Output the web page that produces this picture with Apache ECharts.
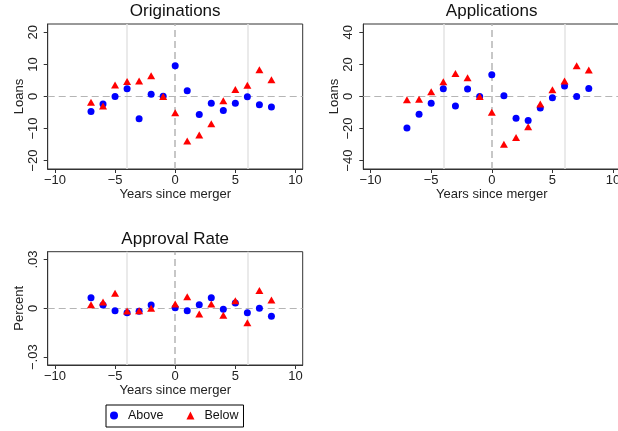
<!DOCTYPE html>
<html><head><meta charset="utf-8">
<script src="https://cdn.jsdelivr.net/npm/echarts@6/dist/echarts.min.js"></script>
<style>html,body{margin:0;padding:0;background:#fff}#c{width:618px;height:431px}</style>
</head><body><div id="c"></div>
<script>
// Data
const years = [-7,-6,-5,-4,-3,-2,-1,0,1,2,3,4,5,6,7,8];
const origAbove = [-4.7,-2.3,0.0,2.4,-6.9,0.7,0.1,9.6,1.8,-5.6,-2.1,-4.4,-2.1,-0.1,-2.6,-3.3];
const origBelow = [-1.8,-3.0,3.6,4.7,4.8,6.5,0.0,-5.1,-13.9,-12.0,-8.5,-1.3,2.2,3.5,8.3,5.2];
const appAbove = [-19.6,-11.0,-4.2,4.8,-6.0,4.6,0.0,13.5,0.4,-13.5,-15.0,-7.1,-0.8,6.5,0.0,5.0];
const appBelow = [-2.1,-1.7,2.9,9.2,14.4,11.7,0.0,-9.8,-29.8,-25.6,-18.8,-4.6,4.2,9.6,19.2,16.5];
const apprAbove = [0.0065,0.0020,-0.0014,-0.0027,-0.0018,0.0020,null,0.0004,-0.0014,0.0022,0.0065,-0.0006,0.0033,-0.0027,0.0000,-0.0049];
const apprBelow = [0.0022,0.0039,0.0092,-0.0016,-0.0014,0.0000,null,0.0027,0.0072,-0.0035,0.0027,-0.0043,0.0047,-0.0088,0.0110,0.0051];
const xTicks = [-10,-5,0,5,10];
const origTicks = [-20,-10,0,10,20];
const appTicks = [-40,-20,0,20,40];
const apprTicks = [-0.03,0,0.03];
const titles = ['Originations','Applications','Approval Rate'];
const yNames = ['Loans','Loans','Percent'];
const xName = 'Years since merger';
const seriesNames = ['Above','Below'];

const FONT = '"Liberation Sans", Arial, Helvetica, sans-serif';
const pairs = (vals) => years.map((y,i)=> vals[i]===null ? null : [y, vals[i]]).filter(d=>d);
const minus = (s) => String(s).replace('-', '\u2212');
const fmtInt = v => minus(v);
const fmtDec = v => v===0 ? '0' : (v<0?'\u2212':'') + String(Math.abs(v)).replace(/^0/, '');

const grids = [
  {left: 47.7, top: 24, width: 255, height: 145},
  {left: 363.3, top: 24, width: 257, height: 145},
  {left: 47.7, top: 251.7, width: 255, height: 113.3}
];
const yRanges = [[-22.6,22.6],[-45.2,45.2],[-0.0348,0.0348]];
const yTickSets = [origTicks, appTicks, apprTicks];
const yFmts = [fmtInt, fmtInt, fmtDec];

const axisColor = '#333';
const xAxes = grids.map((g,i)=>({
  type:'value', gridIndex:i, min:-10.6, max:10.6,
  name: xName, nameLocation:'middle', nameGap:19,
  nameTextStyle:{fontFamily:FONT, fontSize:13, color:'#222'},
  axisLine:{show:true, onZero:false, lineStyle:{color:axisColor, width:1}},
  axisTick:{show:true, length:4, customValues:xTicks, lineStyle:{color:axisColor}},
  axisLabel:{customValues:xTicks, formatter:fmtInt, margin:5, fontFamily:FONT, fontSize:13, color:'#222', hideOverlap:false},
  splitLine:{show:false}
}));
const yAxes = grids.map((g,i)=>({
  type:'value', gridIndex:i, min:yRanges[i][0], max:yRanges[i][1],
  name: yNames[i], nameLocation:'middle', nameGap:22,
  nameTextStyle:{fontFamily:FONT, fontSize:13, color:'#222'},
  axisLine:{show:true, onZero:false, lineStyle:{color:axisColor, width:1}},
  axisTick:{show:true, length:4, customValues:yTickSets[i], lineStyle:{color:axisColor}},
  axisLabel:{customValues:yTickSets[i], formatter:yFmts[i], rotate:90, margin:8, fontFamily:FONT, fontSize:13, color:'#222'},
  splitLine:{show:false}
}));

const refLines = {
  silent:true, symbol:'none', z:1, animation:false,
  label:{show:false},
  data:[
    {xAxis:-4, lineStyle:{color:'#e3e3e3', width:1.5, type:'solid'}},
    {xAxis:6, lineStyle:{color:'#e3e3e3', width:1.5, type:'solid'}},
    {xAxis:0, lineStyle:{color:'#b5b5b5', width:1.5, type:[7,4]}},
    {yAxis:0, lineStyle:{color:'#b5b5b5', width:1.2, type:[7,4]}}
  ]
};

const dataSets = [[origAbove, origBelow],[appAbove, appBelow],[apprAbove, apprBelow]];
const series = [];
dataSets.forEach((ds,i)=>{
  series.push({
    name: seriesNames[0], type:'scatter', xAxisIndex:i, yAxisIndex:i,
    symbol:'circle', symbolSize:7, itemStyle:{color:'#0000ff', opacity:1},
    data: pairs(ds[0]), markLine: refLines, z:2
  });
  series.push({
    name: seriesNames[1], type:'scatter', xAxisIndex:i, yAxisIndex:i,
    symbol:'triangle', symbolSize:[8,7], itemStyle:{color:'#ff0000', opacity:1},
    data: pairs(ds[1]), z:3
  });
});

const titleCenters = [[175.2, 3],[491.7, 3],[175.2, 231]];
const chart = echarts.init(document.getElementById('c'), null, {renderer:'canvas'});
chart.setOption({
  animation:false,
  backgroundColor:'#fff',
  title: titles.map((t,i)=>({
    text:t, left:titleCenters[i][0], top:titleCenters[i][1], textAlign:'center', padding:0,
    textStyle:{fontFamily:FONT, fontSize:17, fontWeight:'normal', color:'#111'}
  })),
  grid: grids.map(g=>Object.assign({show:true, borderColor:axisColor, borderWidth:1, backgroundColor:'#fff', containLabel:false, outerBoundsMode:'none'}, g)),
  xAxis: xAxes,
  yAxis: yAxes,
  legend: {
    data: [{name:'Above', icon:'circle'},{name:'Below', icon:'triangle'}],
    left: 106, top: 405, orient:'horizontal',
    padding:[4,5,5,4], itemGap:23, itemWidth:8, itemHeight:8,
    borderColor:'#000', borderWidth:1,
    textStyle:{fontFamily:FONT, fontSize:12.5, color:'#111', padding:[0,0,0,5]},
    selectedMode:false
  },
  series: series
});
</script></body></html>
